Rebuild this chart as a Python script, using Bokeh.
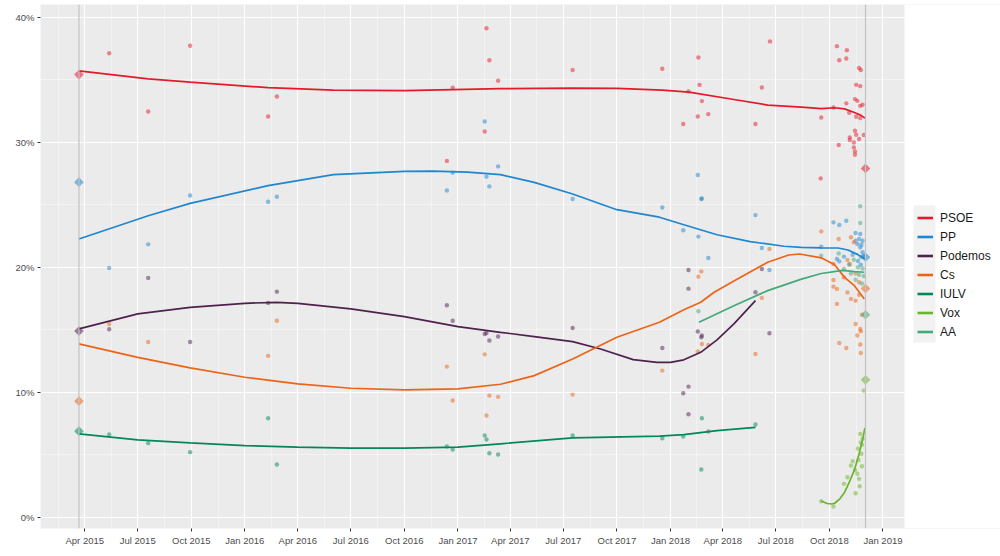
import numpy as np
import pandas as pd
from bokeh.plotting import figure
from bokeh.models import (Range1d, FixedTicker, DatetimeTickFormatter, PrintfTickFormatter,
                          Legend, LegendItem, Span, ColumnDataSource, BoxAnnotation)
from bokeh.embed import file_html
from bokeh.resources import INLINE

# ---------------- data ----------------
parties = ["PSOE", "PP", "Podemos", "Cs", "IULV", "Vox", "AA"]
colors = ["#E4192B", "#1F86D0", "#50204E", "#EC6416", "#00875A", "#69B52B", "#43A87C"]

x_ticks = ["2015-04-01", "2015-07-01", "2015-10-01", "2016-01-01", "2016-04-01", "2016-07-01",
           "2016-10-01", "2017-01-01", "2017-04-01", "2017-07-01", "2017-10-01", "2018-01-01",
           "2018-04-01", "2018-07-01", "2018-10-01", "2019-01-01"]
y_ticks = [0, 10, 20, 30, 40]
y_minor = [5, 15, 25, 35]

election_dates = ["2015-03-22", "2018-12-02"]
result_2015_parties = ["PSOE", "PP", "Podemos", "Cs", "IULV"]
result_2015_values = [35.4, 26.8, 14.9, 9.3, 6.9]
result_2018_parties = ["PSOE", "PP", "Cs", "AA", "Vox"]
result_2018_values = [27.9, 20.8, 18.3, 16.2, 11.0]

psoe_polls = [("2015-05-13", 37.1), ("2015-07-19", 32.45), ("2015-09-29", 37.7), ("2016-02-10", 32.05),
              ("2016-02-25", 33.65), ("2016-12-13", 28.5), ("2016-12-23", 34.35), ("2017-02-16", 30.85),
              ("2017-02-19", 39.1), ("2017-02-24", 36.55), ("2017-03-11", 34.9), ("2017-07-17", 35.76),
              ("2017-12-18", 35.86), ("2018-01-23", 31.45), ("2018-02-01", 34.05), ("2018-02-17", 32.05),
              ("2018-02-18", 36.77), ("2018-02-20", 34.58), ("2018-02-24", 33.28), ("2018-03-07", 32.24),
              ("2018-05-27", 31.45), ("2018-06-07", 34.37), ("2018-06-21", 38.05), ("2018-09-16", 27.1),
              ("2018-09-17", 31.97), ("2018-10-08", 32.77), ("2018-10-14", 37.67), ("2018-10-17", 29.77),
              ("2018-10-18", 36.55), ("2018-10-30", 36.69), ("2018-10-30", 33.1), ("2018-10-31", 37.35),
              ("2018-11-04", 32.35), ("2018-11-05", 30.38), ("2018-11-05", 30.17), ("2018-11-12", 29.98),
              ("2018-11-12", 29.58), ("2018-11-14", 33.44), ("2018-11-14", 30.91), ("2018-11-14", 29.26),
              ("2018-11-14", 28.99), ("2018-11-16", 34.58), ("2018-11-16", 32.03), ("2018-11-16", 30.59),
              ("2018-11-18", 33.3), ("2018-11-21", 35.92), ("2018-11-21", 30.25), ("2018-11-23", 34.48),
              ("2018-11-23", 32.9), ("2018-11-23", 31.92), ("2018-11-24", 35.76), ("2018-11-27", 32.99),
              ("2018-11-29", 30.57)]
pp_polls = [("2015-05-13", 19.94), ("2015-07-19", 21.83), ("2015-09-29", 25.74), ("2016-02-10", 25.24),
            ("2016-02-25", 25.64), ("2016-12-13", 26.14), ("2016-12-23", 27.56), ("2017-02-16", 31.65),
            ("2017-02-19", 27.24), ("2017-02-24", 26.46), ("2017-03-11", 28.06), ("2017-07-17", 25.45),
            ("2017-12-18", 24.77), ("2018-01-23", 22.96), ("2018-02-17", 27.37), ("2018-02-18", 22.45),
            ("2018-02-23", 25.45), ("2018-02-24", 25.5), ("2018-03-07", 20.74), ("2018-05-27", 24.17),
            ("2018-06-07", 21.54), ("2018-06-20", 19.78), ("2018-09-17", 21.65), ("2018-10-08", 23.59),
            ("2018-10-14", 20.66), ("2018-10-18", 23.38), ("2018-10-18", 20.47), ("2018-10-26", 20.85),
            ("2018-10-30", 23.72), ("2018-11-10", 21.0), ("2018-11-15", 22.74), ("2018-11-15", 22.12),
            ("2018-11-18", 21.86), ("2018-11-19", 20.5), ("2018-11-21", 22.26), ("2018-11-23", 22.66),
            ("2018-11-23", 21.59), ("2018-11-24", 20.2), ("2018-11-27", 22.12), ("2018-11-27", 21.2),
            ("2018-11-25", 21.8), ("2018-11-28", 20.9)]
podemos_polls = [("2015-05-13", 15.04), ("2015-07-19", 19.15), ("2015-09-29", 14.03), ("2016-02-10", 17.15),
                 ("2016-02-25", 18.05), ("2016-12-13", 16.96), ("2016-12-23", 15.73), ("2017-02-16", 14.67),
                 ("2017-02-19", 14.75), ("2017-02-24", 14.14), ("2017-03-11", 14.46), ("2017-07-17", 15.15),
                 ("2017-12-18", 13.55), ("2018-01-23", 9.93), ("2018-02-01", 19.78), ("2018-02-01", 18.29),
                 ("2018-02-01", 10.46), ("2018-02-01", 8.25), ("2018-02-17", 14.86), ("2018-02-23", 14.4),
                 ("2018-02-24", 14.54), ("2018-05-27", 18.0), ("2018-06-07", 19.86), ("2018-06-20", 14.72)]
cs_polls = [("2015-05-13", 15.47), ("2015-07-19", 14.03), ("2016-02-10", 12.92), ("2016-02-25", 15.73),
            ("2016-12-13", 12.06), ("2016-12-23", 9.35), ("2017-02-16", 13.04), ("2017-02-19", 8.15),
            ("2017-02-24", 9.74), ("2017-03-11", 9.64), ("2017-07-17", 9.82), ("2017-12-18", 11.74),
            ("2018-02-17", 13.28), ("2018-02-18", 19.25), ("2018-02-23", 19.67), ("2018-02-24", 13.87),
            ("2018-03-07", 13.79), ("2018-05-27", 13.07), ("2018-06-07", 17.55), ("2018-06-20", 21.46),
            ("2018-09-17", 22.87), ("2018-10-08", 20.26), ("2018-10-08", 18.98), ("2018-10-08", 18.45),
            ("2018-10-14", 18.27), ("2018-10-14", 17.07), ("2018-10-17", 22.26), ("2018-10-18", 13.95),
            ("2018-10-26", 19.19), ("2018-10-30", 13.55), ("2018-11-01", 20.58), ("2018-11-01", 17.99),
            ("2018-11-05", 20.26), ("2018-11-07", 22.4), ("2018-11-07", 17.47), ("2018-11-12", 22.0),
            ("2018-11-15", 19.5), ("2018-11-15", 17.33), ("2018-11-15", 15.47), ("2018-11-18", 14.54),
            ("2018-11-21", 18.8), ("2018-11-21", 17.8), ("2018-11-23", 15.07), ("2018-11-23", 13.82),
            ("2018-11-24", 14.88), ("2018-11-24", 13.15), ("2018-11-26", 16.2)]
iulv_polls = [("2015-05-13", 6.63), ("2015-07-19", 5.94), ("2015-09-29", 5.22), ("2016-02-10", 7.93),
              ("2016-02-25", 4.23), ("2016-12-13", 5.67), ("2016-12-23", 5.43), ("2017-02-16", 6.55),
              ("2017-02-19", 6.23), ("2017-02-24", 5.14), ("2017-03-11", 5.03), ("2017-07-17", 6.55),
              ("2017-12-18", 6.33), ("2018-01-23", 6.47), ("2018-02-23", 3.83), ("2018-02-24", 7.93),
              ("2018-03-07", 6.87), ("2018-05-27", 7.43)]
vox_polls = [("2018-09-17", 1.3), ("2018-10-08", 0.88), ("2018-10-26", 2.69), ("2018-11-01", 3.22),
             ("2018-11-07", 4.15), ("2018-11-10", 4.5), ("2018-11-14", 3.8), ("2018-11-15", 1.94),
             ("2018-11-18", 3.5), ("2018-11-19", 5.5), ("2018-11-20", 4.6), ("2018-11-21", 3.09),
             ("2018-11-22", 2.5), ("2018-11-24", 6.0), ("2018-11-25", 5.09), ("2018-11-26", 5.8),
             ("2018-11-23", 6.68), ("2018-11-26", 4.1), ("2018-11-27", 6.3), ("2018-11-29", 10.14)]
aa_polls = [("2018-02-18", 16.48), ("2018-09-17", 20.93), ("2018-10-17", 21.11), ("2018-10-26", 19.86),
            ("2018-11-04", 20.2), ("2018-11-07", 19.5), ("2018-11-12", 20.6), ("2018-11-15", 19.0),
            ("2018-11-19", 20.0), ("2018-11-21", 19.4), ("2018-11-23", 24.87), ("2018-11-23", 23.54),
            ("2018-11-24", 20.8), ("2018-11-26", 18.7), ("2018-11-27", 19.9), ("2018-11-29", 19.3)]

psoe_trend = [("2015-03-22", 35.7), ("2015-07-19", 35.06), ("2015-09-29", 34.8), ("2016-02-10", 34.35),
              ("2016-06-01", 34.16), ("2016-10-01", 34.12), ("2016-12-23", 34.2), ("2017-03-15", 34.27),
              ("2017-07-17", 34.32), ("2017-10-01", 34.3), ("2017-12-18", 34.16), ("2018-02-02", 34.0),
              ("2018-04-20", 33.41), ("2018-06-17", 32.96), ("2018-08-14", 32.8), ("2018-09-17", 32.68),
              ("2018-10-10", 32.75), ("2018-10-27", 32.66), ("2018-11-13", 32.37), ("2018-11-25", 32.12),
              ("2018-12-01", 31.92)]
pp_trend = [("2015-03-22", 22.26), ("2015-07-19", 24.12), ("2015-09-29", 25.1), ("2016-02-10", 26.52),
            ("2016-06-01", 27.4), ("2016-10-01", 27.66), ("2016-11-19", 27.68), ("2017-01-17", 27.61),
            ("2017-03-15", 27.4), ("2017-05-12", 26.78), ("2017-07-17", 25.85), ("2017-10-01", 24.6),
            ("2017-12-13", 24.0), ("2018-01-24", 23.4), ("2018-03-22", 22.6), ("2018-05-18", 22.05),
            ("2018-07-15", 21.68), ("2018-08-14", 21.59), ("2018-09-17", 21.55), ("2018-10-16", 21.54),
            ("2018-11-02", 21.38), ("2018-11-19", 21.01), ("2018-12-01", 20.66)]
podemos_trend = [("2015-03-22", 15.07), ("2015-07-01", 16.27), ("2015-09-29", 16.8), ("2016-01-01", 17.12),
                 ("2016-02-25", 17.2), ("2016-04-01", 17.12), ("2016-07-01", 16.67), ("2016-10-01", 16.05),
                 ("2017-01-01", 15.26), ("2017-03-15", 14.8), ("2017-05-12", 14.46), ("2017-07-17", 14.06),
                 ("2017-09-03", 13.47), ("2017-10-29", 12.62), ("2017-12-09", 12.4), ("2018-01-01", 12.4),
                 ("2018-01-24", 12.6), ("2018-02-22", 13.2), ("2018-03-22", 14.2), ("2018-04-20", 15.47),
                 ("2018-05-27", 17.33)]
cs_trend = [("2015-03-22", 13.87), ("2015-07-01", 12.8), ("2015-09-29", 11.96), ("2016-01-01", 11.21),
            ("2016-04-01", 10.68), ("2016-07-01", 10.33), ("2016-10-01", 10.2), ("2017-01-01", 10.28),
            ("2017-03-15", 10.65), ("2017-05-12", 11.34), ("2017-07-17", 12.67), ("2017-10-01", 14.4),
            ("2017-12-13", 15.6), ("2018-01-24", 16.6), ("2018-02-22", 17.2), ("2018-03-17", 18.0),
            ("2018-04-20", 18.9), ("2018-06-17", 20.4), ("2018-07-23", 20.98), ("2018-08-11", 21.06),
            ("2018-09-17", 20.75), ("2018-10-10", 20.2), ("2018-10-27", 19.19), ("2018-11-13", 18.53),
            ("2018-11-30", 17.47)]
iulv_trend = [("2015-03-22", 6.68), ("2015-07-01", 6.2), ("2015-09-29", 5.97), ("2016-01-01", 5.75),
              ("2016-04-01", 5.62), ("2016-07-01", 5.54), ("2016-10-01", 5.54), ("2017-01-01", 5.62),
              ("2017-03-15", 5.89), ("2017-07-17", 6.37), ("2017-12-13", 6.5), ("2018-01-24", 6.63),
              ("2018-03-22", 6.95), ("2018-05-27", 7.2)]
vox_trend = [("2018-09-17", 1.32), ("2018-09-27", 1.12), ("2018-10-05", 1.08), ("2018-10-10", 1.14),
             ("2018-10-19", 1.49), ("2018-10-27", 2.0), ("2018-11-04", 2.8), ("2018-11-13", 3.8),
             ("2018-11-21", 5.1), ("2018-11-27", 6.2), ("2018-12-01", 7.16)]
aa_trend = [("2018-02-19", 15.6), ("2018-04-20", 16.93), ("2018-06-17", 18.13), ("2018-08-14", 19.05),
            ("2018-09-17", 19.5), ("2018-10-24", 19.75), ("2018-11-13", 19.65), ("2018-11-30", 19.6)]

polls = [psoe_polls, pp_polls, podemos_polls, cs_polls, iulv_polls, vox_polls, aa_polls]
trends = [psoe_trend, pp_trend, podemos_trend, cs_trend, iulv_trend, vox_trend, aa_trend]

# ---------------- figure ----------------
def ms(s):
    return pd.Timestamp(s).value / 1e6

FONT = "Liberation Sans"
W, H = 1000, 556
LEFT, TOP, BOTTOM = 40, 4, 28
PANEL_W = 864             # width of the grey plotting panel
FRAME_W = W - LEFT        # frame reaches the right edge; the part past the panel holds the legend
FRAME_H = H - TOP - BOTTOM
x0, x_panel_end = ms("2015-01-15"), ms("2019-02-07")
x1 = x0 + (x_panel_end - x0) * FRAME_W / PANEL_W
y0, y1 = -0.88, 41.0

def sx(px):   # frame pixel (from frame left) -> data x
    return x0 + (x1 - x0) * px / FRAME_W

def sy(py):   # frame pixel (from frame top) -> data y
    return y1 - (y1 - y0) * py / FRAME_H

p = figure(width=W, height=H, x_axis_type="datetime", output_backend="svg",
           toolbar_location=None,
           x_range=Range1d(x0, x1),
           y_range=Range1d(y0, y1),
           min_border_left=LEFT, min_border_right=0, min_border_top=TOP, min_border_bottom=BOTTOM)
p.background_fill_color = "#EBEBEB"
p.border_fill_color = "white"
p.outline_line_color = None

major = [ms(t) for t in x_ticks]
minor = [(a + b) / 2 for a, b in zip(major[:-1], major[1:])]
minor = [major[0] - (major[1] - major[0]) / 2] + minor + [major[-1] + (major[-1] - major[-2]) / 2]
xt = FixedTicker(ticks=major, minor_ticks=minor)
yt = FixedTicker(ticks=y_ticks, minor_ticks=y_minor)
p.xaxis.ticker = xt
p.yaxis.ticker = yt
p.xgrid.ticker = xt
p.ygrid.ticker = yt
fmt = "%b %Y"
p.xaxis.formatter = DatetimeTickFormatter(milliseconds=fmt, seconds=fmt, minsec=fmt, minutes=fmt,
                                          hourmin=fmt, hours=fmt, days=fmt, months=fmt, years=fmt)
p.yaxis.formatter = PrintfTickFormatter(format="%d%%")

for g in (p.xgrid, p.ygrid):
    g.grid_line_color = "white"
    g.grid_line_width = 1.1
    g.minor_grid_line_color = "white"
    g.minor_grid_line_width = 0.5
    g.minor_grid_line_alpha = 0.8

for ax in (p.xaxis, p.yaxis):
    ax.axis_line_color = None
    ax.major_tick_line_color = "#333333"
    ax.major_tick_out = 3
    ax.major_tick_in = 0
    ax.minor_tick_line_color = None
    ax.major_label_text_font = FONT
    ax.major_label_text_font_size = "9.5px"
    ax.major_label_text_color = "#4D4D4D"
    ax.major_label_standoff = 2

for d in election_dates:
    p.add_layout(Span(location=ms(d), dimension="height", line_color="#C2C2C2", line_width=1.2))

# poll points
for name, col, pts in zip(parties, colors, polls):
    src = ColumnDataSource(dict(x=[ms(d) for d, _ in pts], y=[v for _, v in pts]))
    p.scatter("x", "y", source=src, size=4.4, fill_color=col, fill_alpha=0.5, line_alpha=0)

# trend lines
for name, col, tr in zip(parties, colors, trends):
    src = ColumnDataSource(dict(x=[ms(d) for d, _ in tr], y=[v for _, v in tr]))
    p.line("x", "y", source=src, line_color=col, line_width=1.7)

# election results (diamonds)
cmap = dict(zip(parties, colors))
for d, names, vals in [(election_dates[0], result_2015_parties, result_2015_values),
                       (election_dates[1], result_2018_parties, result_2018_values)]:
    src = ColumnDataSource(dict(x=[ms(d)] * len(vals), y=vals, c=[cmap[n] for n in names]))
    p.scatter("x", "y", source=src, marker="square", angle=np.pi / 4, size=6.8,
              fill_color="c", fill_alpha=0.55, line_alpha=0)

# white area right of the panel (legend zone) and the light key column of the legend
p.add_layout(BoxAnnotation(left=x_panel_end, fill_color="white", fill_alpha=1.0, line_alpha=0))
p.add_layout(BoxAnnotation(left=sx(873), right=sx(895), top=sy(201), bottom=sy(338),
                           fill_color="#F2F2F2", fill_alpha=1.0, line_alpha=0))

# legend (key renderers hold one point far outside the visible range)
items = []
for name, col in zip(parties, colors):
    r = p.line(x=[ms("2000-01-01")], y=[-50], line_color=col, line_width=2.6)
    items.append(LegendItem(label=name, renderers=[r]))
legend = Legend(items=items, location=(877, 188), orientation="vertical")
legend.label_text_font = FONT
legend.label_text_font_size = "12px"
legend.label_text_color = "#1A1A1A"
legend.glyph_width = 16
legend.glyph_height = 17
legend.label_height = 17
legend.label_standoff = 7
legend.spacing = 2
legend.padding = 0
legend.margin = 0
legend.border_line_color = None
legend.background_fill_alpha = 0
p.add_layout(legend)

open("out.html", "w").write(file_html(p, INLINE))
